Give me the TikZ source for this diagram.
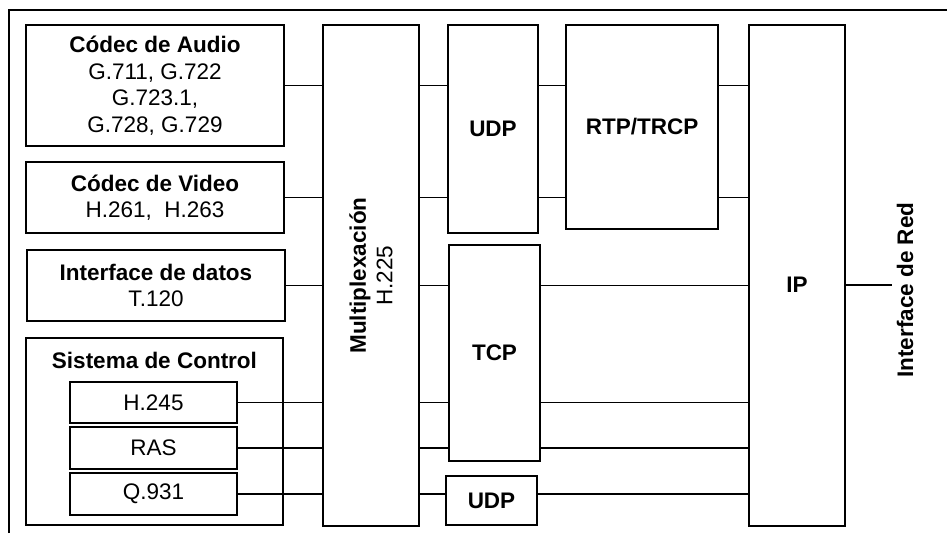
\documentclass[tikz,border=0pt]{standalone}
\usepackage{fontspec}
\setmainfont{Liberation Sans}
\usetikzlibrary{positioning}

\begin{document}
\begin{tikzpicture}[x=1pt, y=-1pt, font=\fontsize{22.5}{26.5}\selectfont,
    blk/.style={draw, line width=1.6pt, align=center, inner sep=0pt},
    wire/.style={line width=1.3pt}]
    \useasboundingbox (0,0) rectangle (947,533);
    % open outer frame
    \draw[line width=1.6pt] (9,533) -- (9,10) -- (947,10);

    \node[blk, minimum width=258, minimum height=121] (audio) at (155,85.5)
        {\textbf{Códec de Audio}\\G.711, G.722\\G.723.1,\\G.728, G.729};
    \node[blk, minimum width=258, minimum height=71] (video) at (155,197.5)
        {\textbf{Códec de Video}\\H.261,\ \ H.263};
    \node[blk, minimum width=258, minimum height=71] (datos) at (156,285.5)
        {\textbf{Interface de datos}\\T.120};
    \node[blk, minimum width=257, minimum height=187] (control) at (154.5,431.5) {};
    \node[below=15pt of control.north, inner sep=0pt] (ctitle) {\textbf{Sistema de Control}};
    \node[blk, minimum width=167, minimum height=41] (h245) at (153.5,402.5) {H.245};
    \node[blk, minimum width=167, minimum height=42] (ras) at (153.5,448) {RAS};
    \node[blk, minimum width=167, minimum height=42] (q931) at (153.5,494) {Q.931};

    \node[blk, minimum width=96, minimum height=501] (mux) at (371,275.5) {};
    \node[rotate=90, align=center] (muxtxt) at (mux.center) {\textbf{Multiplexación}\\H.225};

    \node[blk, minimum width=90, minimum height=208] (udpA) at (493,129) {\textbf{UDP}};
    \node[blk, minimum width=152, minimum height=204] (rtp) at (642,127) {\textbf{RTP/TRCP}};
    \node[blk, minimum width=91, minimum height=216] (tcp) at (494.5,353) {\textbf{TCP}};
    \node[blk, minimum width=91, minimum height=49] (udpB) at (491.5,500.5) {\textbf{UDP}};

    \node[blk, minimum width=96, minimum height=501] (ip) at (797,275.5) {};
    \node (iptxt) at (797,285) {\textbf{IP}};
    \node[rotate=90] (red) at (905,290) {\textbf{Interface de Red}};
    \coordinate (net) at (892,285);

    \foreach \src in {audio, video}
        \draw[wire] (\src.east) -- (\src.east -| mux.west)
            (\src.east -| mux.east) -- (\src.east -| udpA.west)
            (\src.east -| udpA.east) -- (\src.east -| rtp.west)
            (\src.east -| rtp.east) -- (\src.east -| ip.west);
    \foreach \src/\via in {datos/tcp, h245/tcp, ras/tcp, q931/udpB}
        \draw[wire] (\src.east) -- (\src.east -| mux.west)
            (\src.east -| mux.east) -- (\src.east -| \via.west)
            (\src.east -| \via.east) -- (\src.east -| ip.west);
    \draw[wire] (ip.east |- net) -- (net);
\end{tikzpicture}
\end{document}
